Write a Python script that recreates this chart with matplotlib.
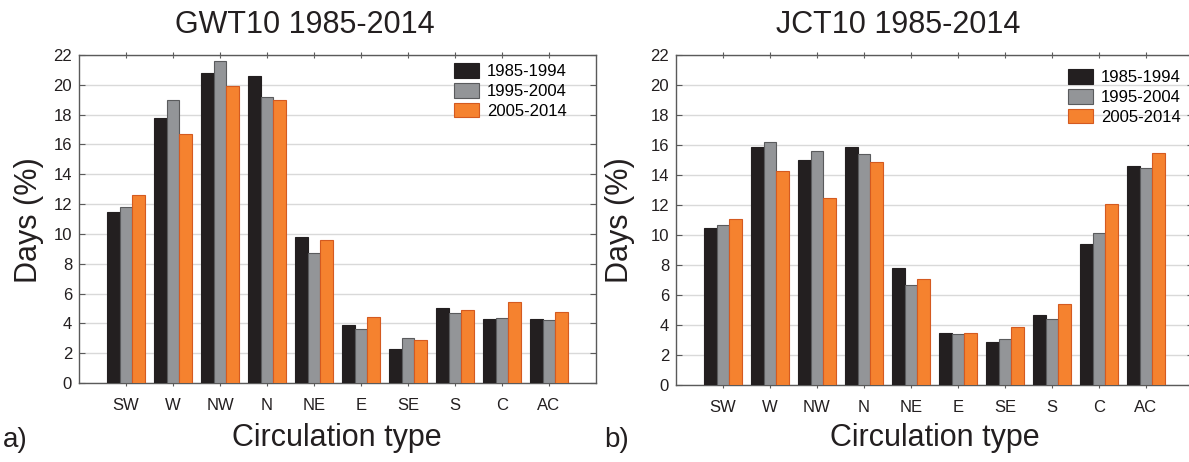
import matplotlib
matplotlib.use("Agg")
import matplotlib.pyplot as plt
import numpy as np

plt.rcParams['font.family'] = ['Liberation Sans', 'DejaVu Sans']

categories = ["SW", "W", "NW", "N", "NE", "E", "SE", "S", "C", "AC"]
periods = ["1985-1994", "1995-2004", "2005-2014"]

gwt_1985_1994 = [11.5, 17.8, 20.8, 20.6, 9.8, 3.9, 2.3, 5.0, 4.3, 4.3]
gwt_1995_2004 = [11.8, 19.0, 21.6, 19.2, 8.7, 3.6, 3.0, 4.7, 4.35, 4.2]
gwt_2005_2014 = [12.6, 16.7, 19.9, 19.0, 9.6, 4.4, 2.9, 4.9, 5.4, 4.75]

jct_1985_1994 = [10.5, 15.9, 15.0, 15.9, 7.8, 3.45, 2.9, 4.7, 9.4, 14.6]
jct_1995_2004 = [10.7, 16.2, 15.6, 15.4, 6.7, 3.4, 3.1, 4.4, 10.15, 14.45]
jct_2005_2014 = [11.1, 14.3, 12.5, 14.9, 7.05, 3.45, 3.9, 5.4, 12.05, 15.45]

yticks = list(range(0, 23, 2))

face = ["#231f20", "#939598", "#f5822f"]
edge = ["#231f20", "#5a5b5d", "#d45a20"]

W, H = 1189, 462
fig = plt.figure(figsize=(W / 100, H / 100), dpi=100)


def px(x0, y_top, x1, y_bot):
    return [x0 / W, 1 - y_bot / H, (x1 - x0) / W, (y_bot - y_top) / H]


def panel(rect, series, legend_anchor):
    ax = fig.add_axes(rect)
    x = np.arange(len(categories))
    bw = 0.27
    for i, (vals, lab) in enumerate(zip(series, periods)):
        ax.bar(x + (i - 1) * bw, vals, width=bw, color=face[i], edgecolor=edge[i],
               linewidth=0.8, label=lab, zorder=3)
    ax.set_xlim(-1, len(categories))
    ax.set_ylim(0, 22)
    ax.set_yticks(yticks)
    ax.set_xticks(x)
    ax.set_xticklabels(categories, fontsize=12, color="#231f20")
    ax.set_yticklabels([str(t) for t in yticks], fontsize=12, color="#231f20")
    ax.grid(axis="y", color="#d9d9d9", linewidth=1.0, zorder=0)
    ax.set_axisbelow(True)
    for s in ax.spines.values():
        s.set_color("#5a5a5a")
        s.set_linewidth(1.0)
    ax.tick_params(axis="y", direction="in", left=True, right=True, length=4,
                   color="#5a5a5a", pad=5)
    ax.tick_params(axis="x", direction="inout", top=True, bottom=True, length=5,
                   color="#5a5a5a", pad=8)
    ax.legend(loc="upper left", bbox_to_anchor=legend_anchor, frameon=False,
              fontsize=12, handlelength=1.5, handleheight=1.0, handletextpad=0.5,
              labelspacing=0.22, borderpad=0, borderaxespad=0)
    return ax


axL = panel(px(79, 55, 596, 383), [gwt_1985_1994, gwt_1995_2004, gwt_2005_2014],
            (0.725, 0.976))
axR = panel(px(676, 55, 1193, 385), [jct_1985_1994, jct_1995_2004, jct_2005_2014],
            (0.758, 0.958))

txt = "#231f20"
fig.text(305 / W, 1 - 25 / H, "GWT10 1985-2014", fontsize=22, ha="center", va="center", color=txt)
fig.text(898 / W, 1 - 25 / H, "JCT10 1985-2014", fontsize=22, ha="center", va="center", color=txt)
fig.text(29 / W, 1 - 220 / H, "Days (%)", fontsize=22, rotation=90, ha="center", va="center", color=txt)
fig.text(620 / W, 1 - 220 / H, "Days (%)", fontsize=22, rotation=90, ha="center", va="center", color=txt)
fig.text(337 / W, 1 - 438 / H, "Circulation type", fontsize=22, ha="center", va="center", color=txt)
fig.text(935 / W, 1 - 438 / H, "Circulation type", fontsize=22, ha="center", va="center", color=txt)
fig.text(15 / W, 1 - 440 / H, "a)", fontsize=20, ha="center", va="center", color=txt)
fig.text(617 / W, 1 - 440 / H, "b)", fontsize=20, ha="center", va="center", color=txt)

fig.savefig("out.png", dpi=100)
